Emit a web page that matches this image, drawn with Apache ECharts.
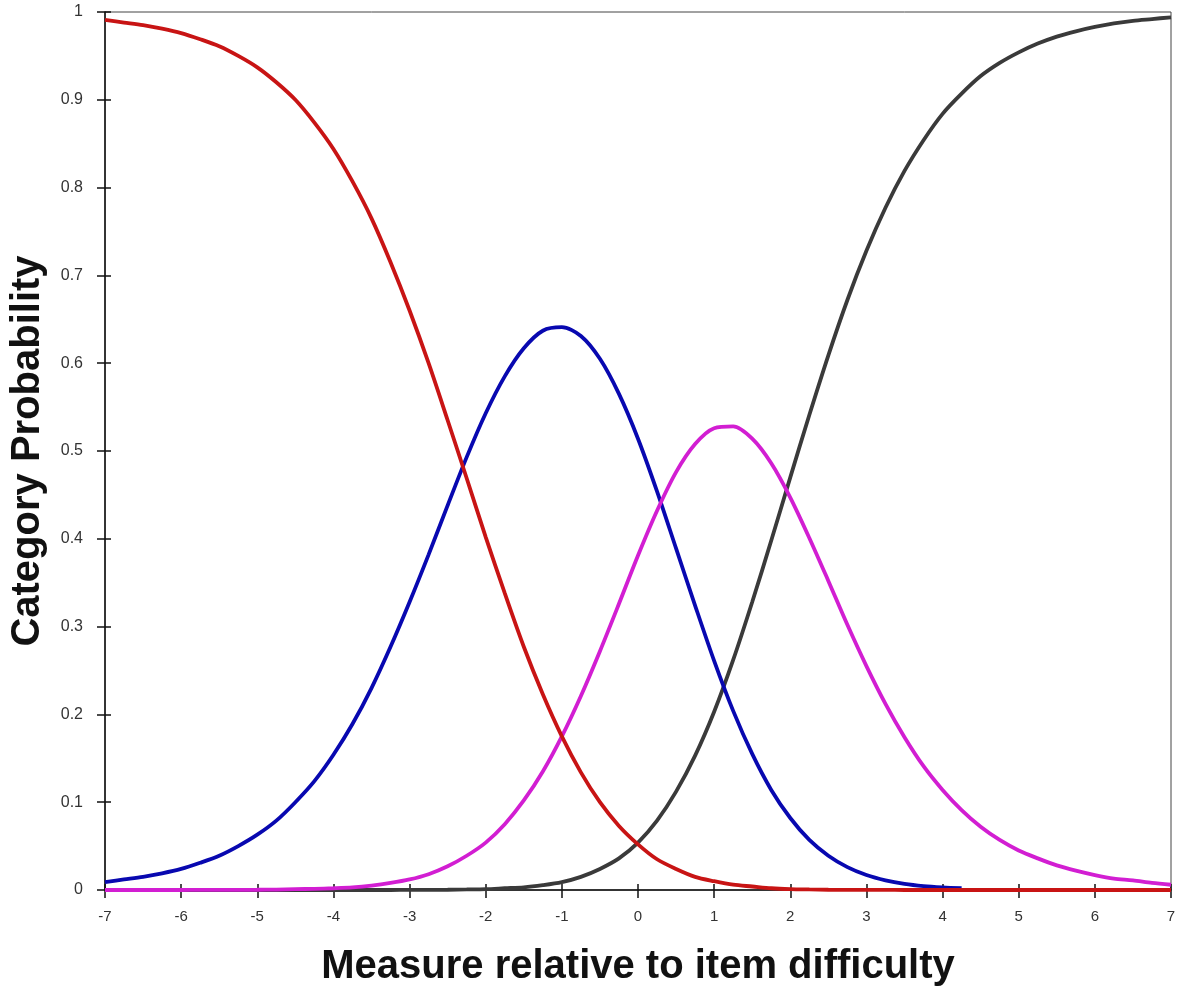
<!DOCTYPE html>
<html>
<head>
<meta charset="utf-8">
<script src="https://cdn.jsdelivr.net/npm/echarts@6/dist/echarts.min.js"></script>
<style>html,body{margin:0;padding:0;background:#fff}#c{width:1181px;height:998px}</style>
</head>
<body>
<div id="c"></div>
<script>
const xValues = [-7,-6.75,-6.5,-6.25,-6,-5.75,-5.5,-5.25,-5,-4.75,-4.5,-4.25,-4,-3.75,-3.5,-3.25,-3,-2.75,-2.5,-2.25,-2,-1.75,-1.5,-1.25,-1,-0.75,-0.5,-0.25,0,0.25,0.5,0.75,1,1.25,1.5,1.75,2,2.25,2.5,2.75,3,3.25,3.5,3.75,4,4.25,4.5,4.75,5,5.25,5.5,5.75,6,6.25,6.5,6.75,7];
const cat0 = [0.991,0.988,0.985,0.981,0.976,0.969,0.961,0.950,0.937,0.920,0.900,0.874,0.844,0.807,0.765,0.715,0.660,0.600,0.535,0.469,0.402,0.338,0.277,0.223,0.175,0.134,0.100,0.073,0.052,0.035,0.024,0.015,0.010,0.006,0.004,0.002,0.001,0.0006,0.0003,0.0002,0.0001,0.0001,0,0,0,0,0,0,0,0,0,0,0,0,0,0,0];
const cat1 = [0.009,0.012,0.015,0.019,0.024,0.031,0.039,0.050,0.063,0.079,0.100,0.124,0.154,0.189,0.230,0.277,0.328,0.382,0.438,0.493,0.543,0.585,0.617,0.637,0.641,0.631,0.605,0.565,0.514,0.454,0.389,0.324,0.261,0.204,0.155,0.114,0.082,0.057,0.039,0.026,0.017,0.011,0.007,0.0045,0.003,0.002,null,null,null,null,null,null,null,null,null,null,null];
const cat2 = [0,0,0,0,0,0.0001,0.0001,0.0002,0.0003,0.0005,0.001,0.0013,0.002,0.003,0.005,0.008,0.012,0.018,0.027,0.039,0.054,0.075,0.102,0.135,0.175,0.221,0.272,0.326,0.381,0.432,0.476,0.508,0.526,0.528,0.514,0.486,0.447,0.401,0.352,0.302,0.255,0.212,0.174,0.141,0.114,0.091,0.072,0.057,0.045,0.036,0.028,0.022,0.017,0.013,0.011,0.008,0.006];
const cat3 = [0,0,0,0,0,0,0,0,0,0,0,0,0,0,0,0,0.0001,0.0002,0.0003,0.0006,0.001,0.002,0.003,0.0055,0.009,0.015,0.024,0.036,0.054,0.079,0.112,0.153,0.203,0.262,0.328,0.398,0.470,0.541,0.609,0.672,0.728,0.777,0.819,0.854,0.884,0.907,0.927,0.942,0.954,0.964,0.972,0.978,0.983,0.987,0.990,0.992,0.994];

function pairs(arr){ return xValues.map((x,i)=>[x,arr[i]]); }

const chart = echarts.init(document.getElementById('c'), null, {renderer:'canvas'});
const lineBase = {type:'line', showSymbol:false, smooth:0.3, xAxisIndex:0, yAxisIndex:0};
chart.setOption({
  animation:false,
  backgroundColor:'#fff',
  grid:{left:105, right:10, top:12, bottom:108, outerBoundsMode:'none', containLabel:false, show:true, borderColor:'#444', borderWidth:1, backgroundColor:'transparent'},
  xAxis:[{
    type:'value', min:-7, max:7, interval:1,
    axisLine:{show:true, onZero:false, lineStyle:{color:'#111', width:1.5}},
    axisTick:{show:true, inside:false, length:8, lineStyle:{color:'#111', width:1.5}},
    axisLabel:{color:'#333', fontSize:15, fontFamily:'Liberation Sans, Arial', margin:19},
    splitLine:{show:false},
    name:'Measure relative to item difficulty', nameLocation:'middle', nameGap:57,
    nameTextStyle:{fontSize:40, fontWeight:'bold', color:'#111', fontFamily:'Liberation Sans, Arial'}
  },{
    type:'value', min:-7, max:7, interval:1, position:'bottom',
    axisLine:{show:false, onZero:false}, axisLabel:{show:false}, splitLine:{show:false},
    axisTick:{show:true, inside:true, length:6, lineStyle:{color:'#111', width:1.5}}
  }],
  yAxis:[{
    type:'value', min:0, max:1, interval:0.1,
    axisLine:{show:true, onZero:false, lineStyle:{color:'#111', width:1.5}},
    axisTick:{show:true, inside:false, length:8, lineStyle:{color:'#111', width:1.5}},
    axisLabel:{color:'#333', fontSize:16, fontFamily:'Liberation Sans, Arial', margin:22,
      formatter:function(v){ return String(Math.round(v*10)/10); }},
    splitLine:{show:false},
    name:'Category Probability', nameLocation:'middle', nameGap:57,
    nameTextStyle:{fontSize:40, fontWeight:'bold', color:'#111', fontFamily:'Liberation Sans, Arial'}
  },{
    type:'value', min:0, max:1, interval:0.1, position:'left',
    axisLine:{show:false, onZero:false}, axisLabel:{show:false}, splitLine:{show:false},
    axisTick:{show:true, inside:true, length:6, lineStyle:{color:'#111', width:1.5}}
  }],
  series:[
    Object.assign({}, lineBase, {name:'cat3', data:pairs(cat3), lineStyle:{color:'#3a3a3a', width:3.8}, itemStyle:{color:'#3a3a3a'}}),
    Object.assign({}, lineBase, {name:'cat1', data:pairs(cat1), lineStyle:{color:'#0808b0', width:3.8}, itemStyle:{color:'#0808b0'}}),
    Object.assign({}, lineBase, {name:'cat2', data:pairs(cat2), lineStyle:{color:'#d21ed2', width:3.8}, itemStyle:{color:'#d21ed2'}}),
    Object.assign({}, lineBase, {name:'cat0', data:pairs(cat0), lineStyle:{color:'#c81414', width:3.8}, itemStyle:{color:'#c81414'}})
  ]
});
</script>
</body>
</html>
